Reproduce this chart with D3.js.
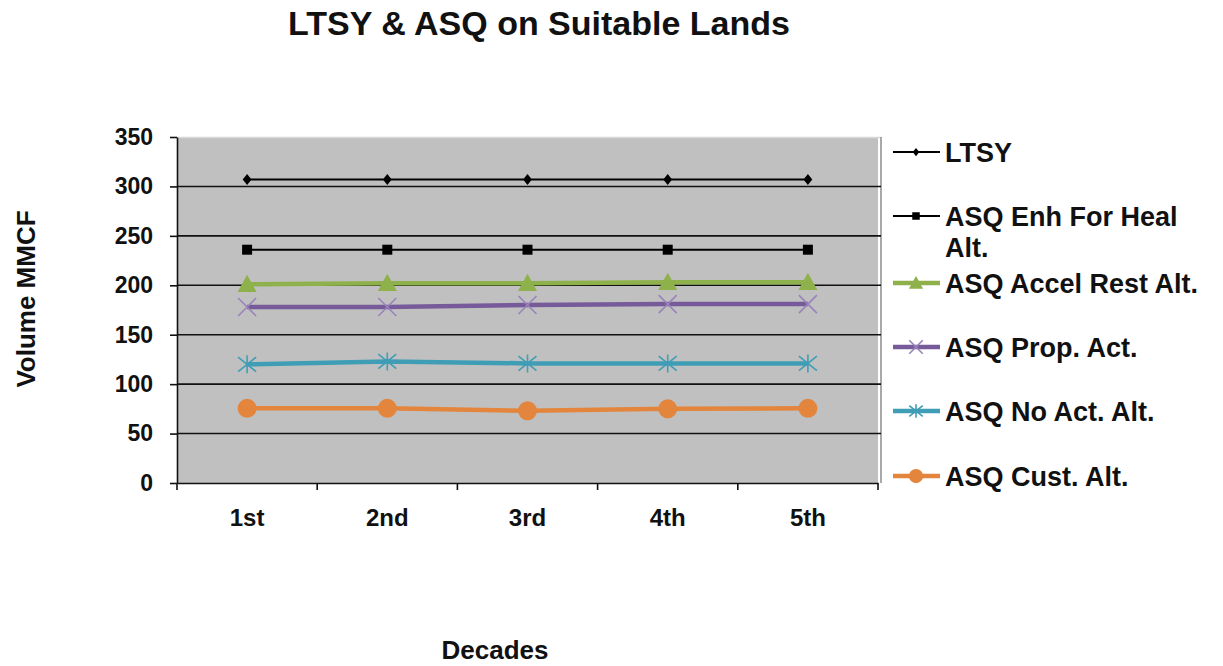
<!DOCTYPE html>
<html>
<head>
<meta charset="utf-8">
<script src="https://cdn.jsdelivr.net/npm/d3@7"></script>
<style>
  html, body { margin: 0; padding: 0; background: #fff; }
  svg { display: block; font-family: "Liberation Sans", Arial, sans-serif; }
</style>
</head>
<body>
<svg id="chart" width="1223" height="666"></svg>
<script>
// ---- data ----
const categories = ["1st", "2nd", "3rd", "4th", "5th"];
const yTicks = [0, 50, 100, 150, 200, 250, 300, 350];
const seriesNames = ["LTSY", "ASQ Enh For Heal Alt.", "ASQ Accel Rest Alt.", "ASQ Prop. Act.", "ASQ No Act. Alt.", "ASQ Cust. Alt."];
const ltsy     = [307, 307, 307, 307, 307];
const asqEnh   = [236, 236, 236, 236, 236];
const asqAccel = [201, 202, 202, 203, 203];
const asqProp  = [178, 178, 180, 181, 181];
const asqNoAct = [120, 123, 121, 121, 121];
const asqCust  = [75.5, 75.5, 73, 75, 75.5];

const seriesValues = [ltsy, asqEnh, asqAccel, asqProp, asqNoAct, asqCust];
const styles = [
  { color: "#000000", width: 2, marker: "diamond", size: 11, mcolor: "#000000" },
  { color: "#000000", width: 2, marker: "square", size: 10, mcolor: "#000000" },
  { color: "#8fb14b", width: 4.5, marker: "triangle", size: 19, mcolor: "#8fb14b" },
  { color: "#765a9a", width: 4.5, marker: "x", size: 18, mcolor: "#9a82bb" },
  { color: "#3f9db6", width: 4.5, marker: "asterisk", size: 18, mcolor: "#3f9db6" },
  { color: "#e3853c", width: 4.5, marker: "circle", size: 19, mcolor: "#e3853c" }
];
const legendY = [152, 216, 283, 347, 411, 476];

const svg = d3.select("#chart");
const x = d3.scaleBand().domain(categories).range([177, 878]).padding(0);
const y = d3.scaleLinear().domain([0, 350]).range([483, 137]);
const FONT = "Liberation Sans, Arial, sans-serif";

// plot background
svg.append("rect")
  .attr("x", x.range()[0]).attr("y", y(350))
  .attr("width", x.range()[1] - x.range()[0]).attr("height", y(0) - y(350))
  .attr("fill", "#c0c0c0");
// plot border (top light, right gray)
svg.append("line").attr("x1", x.range()[0]).attr("x2", x.range()[1] + 3)
  .attr("y1", y(350) + 0.5).attr("y2", y(350) + 0.5).attr("stroke", "#d8d8d8").attr("stroke-width", 1.5);
svg.append("line").attr("x1", x.range()[1] + 3).attr("x2", x.range()[1] + 3)
  .attr("y1", y(350)).attr("y2", y(0)).attr("stroke", "#8c8c8c").attr("stroke-width", 1.5);

// gridlines
svg.append("g").selectAll("line")
  .data(yTicks.filter(d => d > 0 && d < 350))
  .join("line")
  .attr("x1", x.range()[0]).attr("x2", x.range()[1] + 3)
  .attr("y1", d => y(d)).attr("y2", d => y(d))
  .attr("stroke", "#111").attr("stroke-width", 1.6);

// y axis
const yAxis = svg.append("g")
  .attr("transform", `translate(${x.range()[0]},0)`)
  .call(d3.axisLeft(y).tickValues(yTicks).tickSize(7).tickPadding(17).tickSizeOuter(0));
yAxis.select(".domain").attr("stroke", "#111").attr("stroke-width", 1.6);
yAxis.selectAll(".tick line").attr("stroke", "#111").attr("stroke-width", 1.6);
yAxis.selectAll(".tick text")
  .attr("font-size", 23).attr("font-weight", "bold").attr("fill", "#111")
  .attr("font-family", FONT);

// x axis
const xAxis = svg.append("g")
  .attr("transform", `translate(0,${y(0)})`)
  .call(d3.axisBottom(x).tickSize(0).tickPadding(26).tickSizeOuter(0));
xAxis.select(".domain").attr("stroke", "#111").attr("stroke-width", 1.6);
xAxis.selectAll(".tick text")
  .attr("font-size", 24).attr("font-weight", "bold").attr("fill", "#111")
  .attr("font-family", FONT);
const bounds = categories.map(c => x(c)).concat([x.range()[1]]);
xAxis.selectAll("line.btick").data(bounds).join("line").attr("class", "btick")
  .attr("x1", d => d).attr("x2", d => d).attr("y1", 0).attr("y2", 7)
  .attr("stroke", "#111").attr("stroke-width", 1.6);

// markers
function markerPath(type, s) {
  const h = s / 2;
  switch (type) {
    case "diamond": return `M0,${-h}L${h*0.8},0L0,${h}L${-h*0.8},0Z`;
    case "square": return `M${-h},${-h}H${h}V${h}H${-h}Z`;
    case "triangle": return `M0,${-h}L${h},${h*0.8}L${-h},${h*0.8}Z`;
    case "circle": return d3.symbol(d3.symbolCircle, Math.PI * h * h)();
    case "x": return `M${-h},${-h}L${h},${h}M${-h},${h}L${h},${-h}`;
    case "asterisk": return `M${-h},${-h*0.8}L${h},${h*0.8}M${-h},${h*0.8}L${h},${-h*0.8}M0,${-h}L0,${h}`;
  }
}
function drawMarker(g, st, size) {
  const open = st.marker === "x" || st.marker === "asterisk";
  g.append("path").attr("d", markerPath(st.marker, size))
    .attr("fill", open ? "none" : st.mcolor)
    .attr("stroke", open ? st.mcolor : "none")
    .attr("stroke-width", open ? 1.6 : 0);
}

const line = d3.line().x((d, i) => x(categories[i]) + x.bandwidth() / 2).y(d => y(d));
seriesValues.forEach((vals, si) => {
  const st = styles[si];
  const g = svg.append("g");
  g.append("path").datum(vals).attr("d", line)
    .attr("fill", "none").attr("stroke", st.color).attr("stroke-width", st.width);
  vals.forEach((v, i) => {
    const mg = g.append("g").attr("transform", `translate(${x(categories[i]) + x.bandwidth() / 2},${y(v)})`);
    drawMarker(mg, st, st.size);
  });
});

// legend
const lg = svg.append("g");
seriesNames.forEach((name, i) => {
  const st = styles[i];
  const yy = legendY[i];
  lg.append("line").attr("x1", 893).attr("x2", 940).attr("y1", yy).attr("y2", yy)
    .attr("stroke", st.color).attr("stroke-width", st.width);
  const mg = lg.append("g").attr("transform", `translate(916,${yy})`);
  drawMarker(mg, st, st.size * 0.75);
  const t = lg.append("text").attr("x", 945).attr("y", yy + 10)
    .attr("font-size", 27).attr("font-weight", "bold").attr("fill", "#111");
  if (name === "ASQ Enh For Heal Alt.") {
    t.append("tspan").attr("x", 945).text("ASQ Enh For Heal");
    t.append("tspan").attr("x", 945).attr("dy", 31).text("Alt.");
  } else {
    t.text(name);
  }
});

// title
svg.append("text").attr("x", 539).attr("y", 35).attr("text-anchor", "middle")
  .attr("font-size", 34).attr("font-weight", "bold").attr("fill", "#111")
  .text("LTSY & ASQ on Suitable Lands");

// axis titles
svg.append("text").attr("transform", "translate(35,299) rotate(-90)").attr("text-anchor", "middle")
  .attr("font-size", 26).attr("font-weight", "bold").attr("fill", "#111")
  .text("Volume MMCF");
svg.append("text").attr("x", 495).attr("y", 659).attr("text-anchor", "middle")
  .attr("font-size", 26).attr("font-weight", "bold").attr("fill", "#111")
  .text("Decades");
</script>
</body>
</html>
